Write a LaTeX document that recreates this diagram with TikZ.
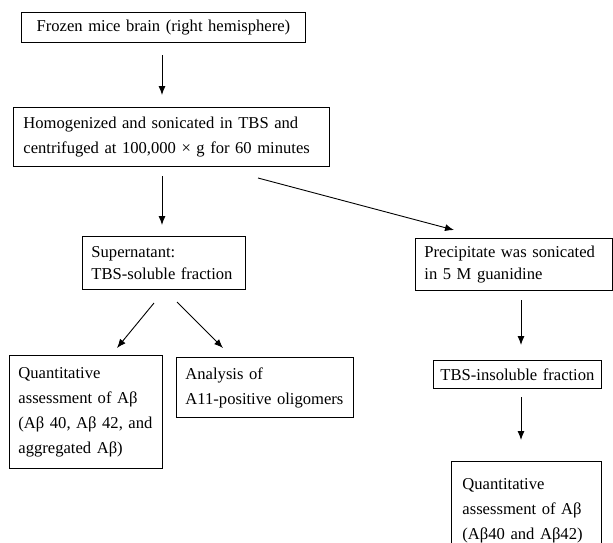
\documentclass[tikz,border=0pt]{standalone}
\usepackage{fontspec}
\setmainfont{Liberation Serif}
\usetikzlibrary{arrows.meta}
\begin{document}
\begin{tikzpicture}[x=1pt,y=-1pt,
  box/.style={draw, line width=0.9pt, anchor=north west, inner ysep=0pt,
    font=\fontsize{16.6}{25}\selectfont},
  tightbox/.style={box, font=\fontsize{16.6}{21.5}\selectfont},
  arr/.style={line width=0.9pt, -{Latex[length=9pt,width=7pt]}}]
\useasboundingbox (0,0) rectangle (613,542);
\clip (0,0) rectangle (613,542);
% boxes
\node[box, align=center, text width=260pt, inner xsep=12pt, minimum height=30pt] (b1) at (21,12)
  {Frozen mice brain (right hemisphere)};
\node[box, align=left, text width=296pt, inner xsep=10pt, minimum height=59pt] (b2) at (13,107)
  {Homogenized and sonicated in TBS and\\centrifuged at 100,000 × g for 60 minutes};
\node[tightbox, align=left, text width=145pt, inner xsep=9pt, minimum height=53pt] (b3) at (82,236)
  {Supernatant:\\TBS-soluble fraction};
\node[tightbox, align=left, text width=179pt, inner xsep=9pt, minimum height=52pt] (b4) at (415,238)
  {Precipitate was sonicated\\in 5 M guanidine};
\node[box, align=left, text width=135pt, inner xsep=9pt, minimum height=113pt] (b5) at (9,355)
  {Quantitative\\assessment of Aβ\\(Aβ 40, Aβ 42, and\\aggregated Aβ)};
\node[box, align=left, text width=159pt, inner xsep=9pt, minimum height=60pt] (b6) at (176,357)
  {Analysis of\\A11-positive oligomers};
\node[box, align=center, text width=156pt, inner xsep=6pt, minimum height=28pt] (b7) at (433,360)
  {TBS-insoluble fraction};
\node[box, align=left, text width=128pt, inner xsep=11pt, inner ysep=17pt] (b8) at (451,461)
  {Quantitative\\assessment of Aβ\\(Aβ40 and Aβ42)};
% connector end points
\coordinate (a1s) at (162,55);  \coordinate (a1e) at (162,95);
\coordinate (a2s) at (162,176); \coordinate (a2e) at (162,225);
\coordinate (a3s) at (258,178); \coordinate (a3e) at (454,230);
\coordinate (a4s) at (154,303); \coordinate (a4e) at (117,348);
\coordinate (a5s) at (177,302); \coordinate (a5e) at (223,348);
\coordinate (a6s) at (521,300); \coordinate (a6e) at (521,345);
\coordinate (a7s) at (521,397); \coordinate (a7e) at (521,440);
\draw[arr] (a1s) -- (a1e);
\draw[arr] (a2s) -- (a2e);
\draw[arr] (a3s) -- (a3e);
\draw[arr] (a4s) -- (a4e);
\draw[arr] (a5s) -- (a5e);
\draw[arr] (a6s) -- (a6e);
\draw[arr] (a7s) -- (a7e);
\end{tikzpicture}
\end{document}
